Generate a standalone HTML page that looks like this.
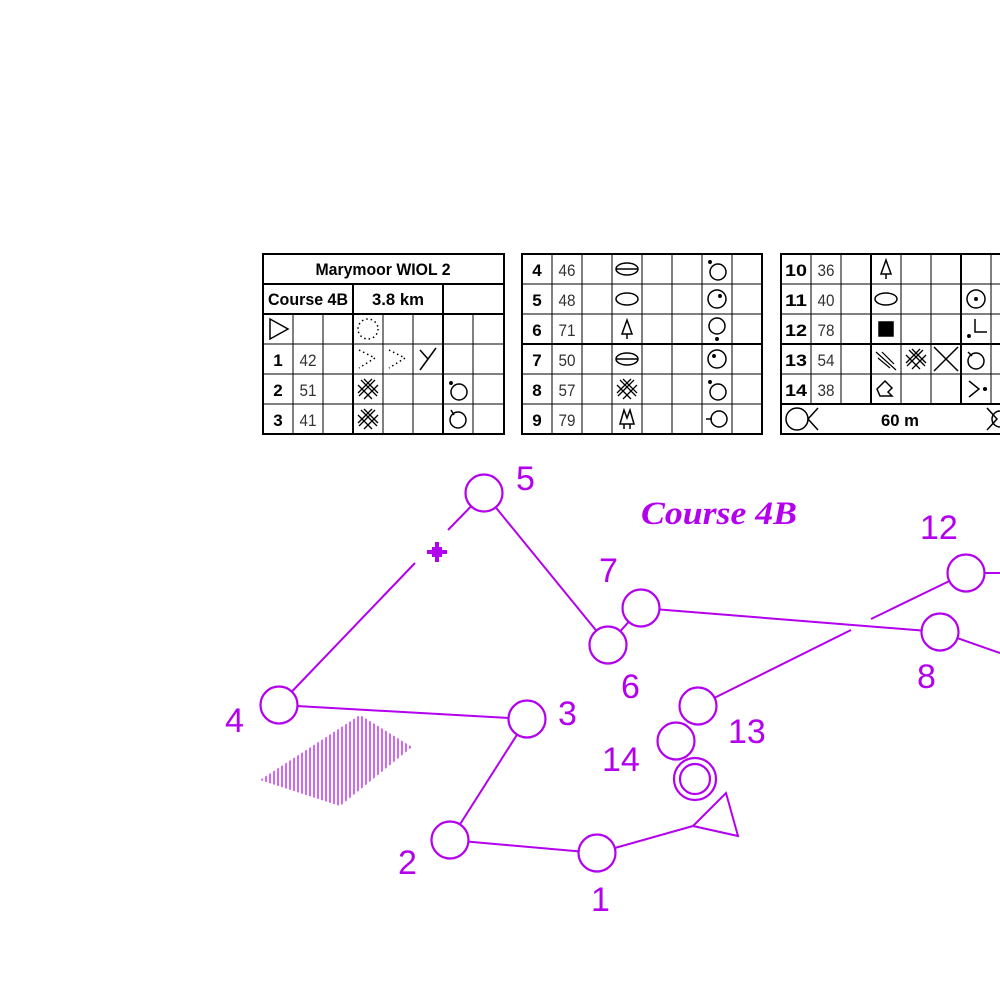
<!DOCTYPE html>
<html><head><meta charset="utf-8"><style>
html,body{margin:0;padding:0;background:#fff;}
svg{display:block;}
.t{font-family:"Liberation Sans Narrow","Liberation Sans",sans-serif;}
.b{font-weight:bold;font-size:17px;}
.c{font-size:17px;fill:#333;}
.m{font-family:"Liberation Sans",sans-serif;font-size:34px;fill:#b300ee;}
</style></head><body>
<svg width="1000" height="1000" viewBox="0 0 1000 1000" xmlns="http://www.w3.org/2000/svg">
<defs>
<clipPath id="dia"><polygon points="260,780 360,715 412,747 340,806"/></clipPath>
<g id="xh" stroke-width="1.3">
<path d="M-10,-4 L4,10 M-7,-9 L9,7 M-4,-10 L10,4 M-10,4 L4,-10 M-9,7 L7,-9 M-4,10 L10,-4"/>
</g>
</defs>
<!-- TABLE 1 -->
<g stroke="#000" fill="none">
<rect x="263" y="254" width="241" height="180" stroke-width="2"/>
<line x1="263" y1="284" x2="504" y2="284" stroke-width="2"/>
<line x1="263" y1="314" x2="504" y2="314" stroke-width="2"/>
<line x1="263" y1="344" x2="504" y2="344"/>
<line x1="263" y1="374" x2="504" y2="374"/>
<line x1="263" y1="404" x2="504" y2="404"/>
<line x1="353" y1="284" x2="353" y2="434" stroke-width="2"/>
<line x1="443" y1="284" x2="443" y2="434" stroke-width="2"/>
<line x1="293" y1="314" x2="293" y2="434"/>
<line x1="323" y1="314" x2="323" y2="434"/>
<line x1="383" y1="314" x2="383" y2="434"/>
<line x1="413" y1="314" x2="413" y2="434"/>
<line x1="473" y1="314" x2="473" y2="434"/>
</g>
<g class="t" text-anchor="middle">
<text x="383" y="275" class="b" textLength="135" lengthAdjust="spacingAndGlyphs">Marymoor WIOL 2</text>
<text x="308" y="305" class="b" textLength="80" lengthAdjust="spacingAndGlyphs">Course 4B</text>
<text x="398" y="305" class="b" textLength="52" lengthAdjust="spacingAndGlyphs">3.8 km</text>
<text x="278" y="366" class="b">1</text><text x="308" y="366" class="c" textLength="17" lengthAdjust="spacingAndGlyphs">42</text>
<text x="278" y="396" class="b">2</text><text x="308" y="396" class="c" textLength="17" lengthAdjust="spacingAndGlyphs">51</text>
<text x="278" y="426" class="b">3</text><text x="308" y="426" class="c" textLength="17" lengthAdjust="spacingAndGlyphs">41</text>
</g>
<g stroke="#000" fill="none" stroke-width="1.5">
<polygon points="270,319 270,339 288,329"/>
<circle cx="368" cy="329" r="10" stroke-dasharray="1.5 3"/>
<polyline points="359,350 375,358 359,368" stroke-dasharray="1.5 3"/>
<polyline points="389,350 405,358 389,368" stroke-dasharray="1.5 3"/>
<polyline points="420,350 428,359 436,348"/><line x1="428" y1="359" x2="420" y2="370"/>
<circle cx="459" cy="392" r="8"/><circle cx="451" cy="383" r="1.2" fill="#000"/>
<circle cx="458" cy="420" r="8"/><line x1="451" y1="410" x2="454" y2="415"/>
<use href="#xh" x="368" y="389"/>
<use href="#xh" x="368" y="419"/>
</g>
<!-- TABLE 2 -->
<g stroke="#000" fill="none">
<rect x="522" y="254" width="240" height="180" stroke-width="2"/>
<line x1="522" y1="284" x2="762" y2="284"/>
<line x1="522" y1="314" x2="762" y2="314"/>
<line x1="522" y1="344" x2="762" y2="344" stroke-width="2"/>
<line x1="522" y1="374" x2="762" y2="374"/>
<line x1="522" y1="404" x2="762" y2="404"/>
<line x1="552" y1="254" x2="552" y2="434"/>
<line x1="582" y1="254" x2="582" y2="434"/>
<line x1="612" y1="254" x2="612" y2="434"/>
<line x1="642" y1="254" x2="642" y2="434"/>
<line x1="672" y1="254" x2="672" y2="434"/>
<line x1="702" y1="254" x2="702" y2="434"/>
<line x1="732" y1="254" x2="732" y2="434"/>
</g>
<g class="t" text-anchor="middle">
<text x="537" y="276" class="b">4</text><text x="567" y="276" class="c" textLength="17" lengthAdjust="spacingAndGlyphs">46</text>
<text x="537" y="306" class="b">5</text><text x="567" y="306" class="c" textLength="17" lengthAdjust="spacingAndGlyphs">48</text>
<text x="537" y="336" class="b">6</text><text x="567" y="336" class="c" textLength="17" lengthAdjust="spacingAndGlyphs">71</text>
<text x="537" y="366" class="b">7</text><text x="567" y="366" class="c" textLength="17" lengthAdjust="spacingAndGlyphs">50</text>
<text x="537" y="396" class="b">8</text><text x="567" y="396" class="c" textLength="17" lengthAdjust="spacingAndGlyphs">57</text>
<text x="537" y="426" class="b">9</text><text x="567" y="426" class="c" textLength="17" lengthAdjust="spacingAndGlyphs">79</text>
</g>
<g stroke="#000" fill="none" stroke-width="1.5">
<ellipse cx="627" cy="269" rx="11" ry="6"/><line x1="616" y1="269" x2="638" y2="269"/>
<ellipse cx="627" cy="299" rx="11" ry="6"/>
<polygon points="627,320 622,334 632,334"/><line x1="627" y1="334" x2="627" y2="339"/>
<ellipse cx="627" cy="359" rx="11" ry="6"/><line x1="616" y1="359" x2="638" y2="359"/>
<use href="#xh" x="627" y="389"/>
<path d="M620,424 L624,410 L627,418 L630,410 L634,424 Z M624,424 L624,429 M630,424 L630,429"/>
<circle cx="718" cy="272" r="8"/><circle cx="710" cy="262" r="1.2" fill="#000"/>
<circle cx="717" cy="299" r="9"/><circle cx="720" cy="296" r="1.2" fill="#000"/>
<circle cx="717" cy="326" r="8"/><circle cx="717" cy="339" r="1.2" fill="#000"/>
<circle cx="717" cy="359" r="9"/><circle cx="714" cy="356" r="1.2" fill="#000"/>
<circle cx="718" cy="392" r="8"/><circle cx="710" cy="382" r="1.2" fill="#000"/>
<circle cx="719" cy="419" r="8"/><line x1="706" y1="419" x2="712" y2="419"/>
</g>
<!-- TABLE 3 -->
<g stroke="#000" fill="none">
<rect x="781" y="254" width="240" height="180" stroke-width="2"/>
<line x1="781" y1="284" x2="1000" y2="284"/>
<line x1="781" y1="314" x2="1000" y2="314"/>
<line x1="781" y1="344" x2="1000" y2="344" stroke-width="2"/>
<line x1="781" y1="374" x2="1000" y2="374"/>
<line x1="781" y1="404" x2="1000" y2="404" stroke-width="2"/>
<line x1="811" y1="254" x2="811" y2="404"/>
<line x1="841" y1="254" x2="841" y2="404"/>
<line x1="871" y1="254" x2="871" y2="404" stroke-width="2"/>
<line x1="901" y1="254" x2="901" y2="404"/>
<line x1="931" y1="254" x2="931" y2="404"/>
<line x1="961" y1="254" x2="961" y2="404" stroke-width="2"/>
<line x1="991" y1="254" x2="991" y2="404"/>
</g>
<g class="t" text-anchor="middle">
<text x="796" y="276" class="b" textLength="22" lengthAdjust="spacingAndGlyphs">10</text><text x="826" y="276" class="c" textLength="17" lengthAdjust="spacingAndGlyphs">36</text>
<text x="796" y="306" class="b" textLength="22" lengthAdjust="spacingAndGlyphs">11</text><text x="826" y="306" class="c" textLength="17" lengthAdjust="spacingAndGlyphs">40</text>
<text x="796" y="336" class="b" textLength="22" lengthAdjust="spacingAndGlyphs">12</text><text x="826" y="336" class="c" textLength="17" lengthAdjust="spacingAndGlyphs">78</text>
<text x="796" y="366" class="b" textLength="22" lengthAdjust="spacingAndGlyphs">13</text><text x="826" y="366" class="c" textLength="17" lengthAdjust="spacingAndGlyphs">54</text>
<text x="796" y="396" class="b" textLength="22" lengthAdjust="spacingAndGlyphs">14</text><text x="826" y="396" class="c" textLength="17" lengthAdjust="spacingAndGlyphs">38</text>
<text x="900" y="426" class="b" textLength="38" lengthAdjust="spacingAndGlyphs">60 m</text>
</g>
<g stroke="#000" fill="none" stroke-width="1.5">
<polygon points="886,260 881,274 891,274"/><line x1="886" y1="274" x2="886" y2="279"/>
<ellipse cx="886" cy="299" rx="11" ry="6"/>
<rect x="879" y="322" width="14" height="14" fill="#000"/>
<path stroke-width="1.2" d="M876,352 L896,370 M878,358 L890,368 M882,352 L894,364"/>
<use href="#xh" x="916" y="359"/>
<line x1="934" y1="347" x2="958" y2="371"/><line x1="958" y1="347" x2="934" y2="371"/>
<polygon points="877,389 885,381 892,388 888,392 892,396 880,396"/>
<circle cx="976" cy="299" r="9"/><circle cx="976" cy="299" r="1.2" fill="#000"/>
<polyline points="975,319 975,332 987,332"/><circle cx="969" cy="336" r="1.2" fill="#000"/>
<circle cx="976" cy="361" r="8"/><line x1="968" y1="352" x2="972" y2="356"/>
<polyline points="969,381 979,389 969,397"/><circle cx="985" cy="389" r="1.3" fill="#000"/>
<circle cx="797" cy="419" r="11"/><polyline points="818,408 808,419 818,430"/>
<polyline points="987,408 997,419 987,430"/><circle cx="1000" cy="419" r="8"/>
</g>
<!-- MAP -->
<g stroke="#b300ee" stroke-width="2" fill="none">
<g clip-path="url(#dia)" stroke-width="1.2">
<path d="M262,700V820M266,700V820M270,700V820M274,700V820M278,700V820M282,700V820M286,700V820M290,700V820M294,700V820M298,700V820M302,700V820M306,700V820M310,700V820M314,700V820M318,700V820M322,700V820M326,700V820M330,700V820M334,700V820M338,700V820M342,700V820M346,700V820M350,700V820M354,700V820M358,700V820M362,700V820M366,700V820M370,700V820M374,700V820M378,700V820M382,700V820M386,700V820M390,700V820M394,700V820M398,700V820M402,700V820M406,700V820M410,700V820"/>
</g>
<line x1="279" y1="705" x2="415" y2="563"/>
<line x1="448" y1="530" x2="484" y2="493"/>
<line x1="484" y1="493" x2="608" y2="645"/>
<line x1="608" y1="645" x2="641" y2="608"/>
<line x1="641" y1="608" x2="940" y2="632"/>
<line x1="940" y1="632" x2="1000" y2="653"/>
<line x1="966" y1="573" x2="1000" y2="573"/>
<line x1="966" y1="573" x2="871" y2="619"/>
<line x1="851" y1="630" x2="698" y2="706"/>
<line x1="279" y1="705" x2="527" y2="719"/>
<line x1="527" y1="719" x2="450" y2="840"/>
<line x1="450" y1="840" x2="597" y2="853"/>
<line x1="597" y1="853" x2="693" y2="826"/>
<polygon points="693,826 726,793 738,836"/>
<g fill="#fff" stroke-width="2.2">
<circle cx="597" cy="853" r="18.5"/>
<circle cx="450" cy="840" r="18.5"/>
<circle cx="527" cy="719" r="18.5"/>
<circle cx="279" cy="705" r="18.5"/>
<circle cx="484" cy="493" r="18.5"/>
<circle cx="608" cy="645" r="18.5"/>
<circle cx="641" cy="608" r="18.5"/>
<circle cx="940" cy="632" r="18.5"/>
<circle cx="966" cy="573" r="18.5"/>
<circle cx="698" cy="706" r="18.5"/>
<circle cx="676" cy="741" r="18.5"/>
<circle cx="695" cy="779" r="21"/>
<circle cx="695" cy="779" r="15"/>
</g>
</g>
<path d="M432,547h10v10h-10z M427,550h20v4h-20z M435,542h4v20h-4z" fill="#b300ee"/>
<g>
<text class="m" x="516" y="490">5</text>
<text class="m" x="599" y="582">7</text>
<text class="m" x="920" y="539">12</text>
<text class="m" x="621" y="698">6</text>
<text class="m" x="917" y="688">8</text>
<text class="m" x="225" y="732">4</text>
<text class="m" x="558" y="725">3</text>
<text class="m" x="728" y="743">13</text>
<text class="m" x="602" y="771">14</text>
<text class="m" x="398" y="874">2</text>
<text class="m" x="591" y="911">1</text>
</g>
<text x="641" y="524" font-family="Liberation Serif,serif" font-weight="bold" font-style="italic" font-size="33" fill="#b300ee" textLength="156" lengthAdjust="spacingAndGlyphs">Course 4B</text>
</svg>
</body></html>
